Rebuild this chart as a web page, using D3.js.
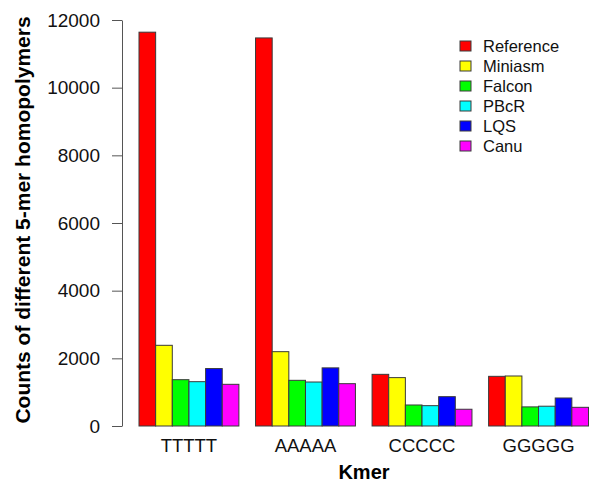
<!DOCTYPE html>
<html>
<head>
<meta charset="utf-8">
<script src="https://cdn.jsdelivr.net/npm/d3@7"></script>
<style>
  body { margin: 0; background: #fff; }
  svg { display: block; font-family: "Liberation Sans", Arial, sans-serif; }
</style>
</head>
<body>
<div id="chart"></div>
<script>
// kmers on the x axis
var kmers = ["TTTTT", "AAAAA", "CCCCC", "GGGGG"];
// assemblers (series) and their colours
var series = ["Reference", "Miniasm", "Falcon", "PBcR", "LQS", "Canu"];
var colors = ["#ff0000", "#ffff00", "#00ff00", "#00ffff", "#0000ff", "#ff00ff"];
// counts per series, one value per kmer
var reference = [11640, 11470, 1527, 1468];
var miniasm   = [2385, 2197, 1430, 1478];
var falcon    = [1369, 1350, 621, 565];
var pbcr      = [1310, 1300, 601, 585];
var lqs       = [1698, 1718, 867, 828];
var canu      = [1232, 1251, 495, 552];
var yTicks = [0, 2000, 4000, 6000, 8000, 10000, 12000];

var values = [reference, miniasm, falcon, pbcr, lqs, canu];

var width = 589, height = 483;
var margin = {top: 20, right: 0.5, bottom: 57, left: 122};

var svg = d3.select("#chart")
  .append("svg")
    .attr("width", width)
    .attr("height", height);

// group scale: one unit of space in front of every group (like R barplot beside=TRUE)
var x0 = d3.scaleBand()
  .domain(kmers)
  .range([margin.left + 0.35, width - margin.right])
  .paddingInner(1 / 7)
  .paddingOuter(1 / 14)
  .align(1);

var x1 = d3.scaleBand()
  .domain(series)
  .range([0, x0.bandwidth()]);

var y = d3.scaleLinear()
  .domain([0, 12000])
  .range([height - margin.bottom, margin.top]);

// bars
var groups = svg.selectAll("g.grp")
  .data(kmers)
  .enter()
  .append("g")
    .attr("class", "grp")
    .attr("transform", function(d) { return "translate(" + x0(d) + ",0)"; });

groups.selectAll("rect")
  .data(function(k, i) {
    return series.map(function(s, j) { return {s: s, v: values[j][i], c: colors[j]}; });
  })
  .enter()
  .append("rect")
    .attr("x", function(d) { return x1(d.s); })
    .attr("y", function(d) { return y(d.v); })
    .attr("width", x1.bandwidth())
    .attr("height", function(d) { return y(0) - y(d.v); })
    .style("fill", function(d) { return d.c; })
    .style("stroke", "#3a3a3a")
    .style("stroke-width", 1);

// y axis
var yAxis = svg.append("g")
  .attr("transform", "translate(" + margin.left + ",0)")
  .call(d3.axisLeft(y).tickValues(yTicks).tickSize(10).tickSizeOuter(0).tickPadding(12).tickFormat(d3.format("d")));
yAxis.select(".domain").style("stroke", "#555");
yAxis.selectAll(".tick line").style("stroke", "#555");
yAxis.selectAll("text")
  .style("font-size", "19px")
  .style("fill", "#111");

// kmer labels
svg.selectAll("text.kmer")
  .data(kmers)
  .enter()
  .append("text")
    .attr("class", "kmer")
    .attr("x", function(d) { return x0(d) + x0.bandwidth() / 2; })
    .attr("y", 452)
    .attr("text-anchor", "middle")
    .style("font-size", "18.5px")
    .style("fill", "#111")
    .text(function(d) { return d; });

// axis titles
svg.append("text")
  .attr("x", 364)
  .attr("y", 479)
  .attr("text-anchor", "middle")
  .style("font-size", "20px")
  .style("font-weight", "bold")
  .text("Kmer");

svg.append("text")
  .attr("transform", "translate(30,220) rotate(-90)")
  .attr("text-anchor", "middle")
  .style("font-size", "21px")
  .style("font-weight", "bold")
  .text("Counts of different 5-mer homopolymers");

// legend
var legend = svg.selectAll("g.leg")
  .data(series)
  .enter()
  .append("g")
    .attr("class", "leg")
    .attr("transform", function(d, i) { return "translate(460," + (46 + i * 20) + ")"; });

legend.append("rect")
  .attr("x", 0)
  .attr("y", -5)
  .attr("width", 11)
  .attr("height", 10)
  .style("fill", function(d, i) { return colors[i]; })
  .style("stroke", "#3a3a3a")
  .style("stroke-width", 1);

legend.append("text")
  .attr("x", 23)
  .attr("y", 6)
  .style("font-size", "16.5px")
  .style("fill", "#111")
  .text(function(d) { return d; });
</script>
</body>
</html>
